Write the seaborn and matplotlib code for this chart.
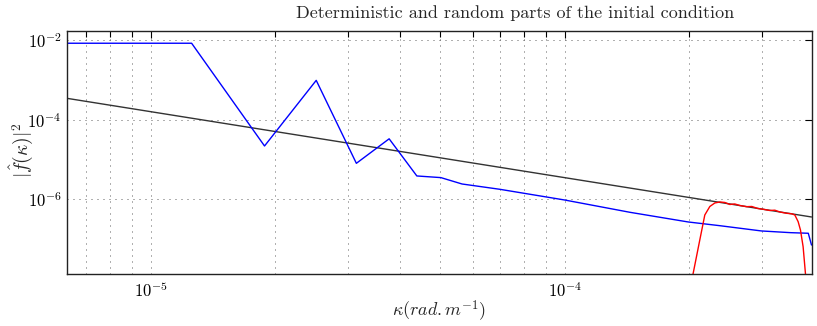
import numpy as np
import pandas as pd
import matplotlib
matplotlib.use("Agg")
import matplotlib.pyplot as plt
import seaborn as sns
from matplotlib.ticker import FixedLocator, FixedFormatter, NullFormatter

# ---- data ----
det_k = [6.283e-6, 1.2566e-5, 1.885e-5, 2.513e-5, 3.1416e-5, 3.770e-5, 4.398e-5,
         5.027e-5, 5.655e-5, 6.98e-5, 1.0e-4, 1.44e-4, 1.99e-4, 2.372e-4,
         2.99e-4, 3.516e-4, 3.88e-4, 3.95e-4]
det_E = [8.3e-3, 8.3e-3, 2.18e-5, 9.7e-4, 8.0e-6, 3.3e-5, 3.85e-6,
         3.5e-6, 2.42e-6, 1.78e-6, 9.6e-7, 4.7e-7, 2.69e-7, 2.17e-7,
         1.6e-7, 1.45e-7, 1.4e-7, 7.1e-8]

ref_k = [6.283e-6, 3.95e-4]
ref_E = [3.43e-4, 3.59e-7]

rnd_k = [2.008e-4, 2.122e-4, 2.182e-4, 2.244e-4, 2.307e-4, 2.372e-4, 2.439e-4,
         2.508e-4, 2.578e-4, 2.651e-4, 2.752e-4, 2.834e-4, 2.930e-4, 3.018e-4,
         3.132e-4, 3.221e-4, 3.311e-4, 3.437e-4, 3.540e-4, 3.600e-4, 3.667e-4,
         3.715e-4, 3.770e-4, 3.820e-4, 3.838e-4]
rnd_E = [5.26e-9, 9.49e-8, 4.03e-7, 6.59e-7, 8.07e-7, 8.55e-7, 8.31e-7,
         7.40e-7, 7.62e-7, 6.98e-7, 6.52e-7, 6.59e-7, 5.87e-7, 5.61e-7,
         5.23e-7, 5.32e-7, 4.80e-7, 4.45e-7, 4.32e-7, 4.03e-7, 2.74e-7,
         1.69e-7, 6.44e-8, 1.33e-8, 5.26e-9]

yticks = [1e-6, 1e-4, 1e-2]
ytick_labels = [r"$10^{-6}$", r"$10^{-4}$", r"$10^{-2}$"]
xticks = [1e-5, 1e-4]
xtick_labels = [r"$10^{-5}$", r"$10^{-4}$"]
title = "Deterministic and random parts of the initial condition"

# ---- style ----
sns.set_theme(style="white")
plt.rcParams["font.family"] = ["cmr10", "DejaVu Serif"]
plt.rcParams["mathtext.fontset"] = "cm"
plt.rcParams["axes.unicode_minus"] = False

fig = plt.figure(figsize=(8.17, 3.26), dpi=100)
ax_w = 811.5 - 67
ax_h = 274 - 30.7
ax = fig.add_axes([67 / 817, 1 - 274 / 326, ax_w / 817, ax_h / 326])

sns.lineplot(x=ref_k, y=ref_E, ax=ax, color="#333333", lw=1.0, estimator=None, sort=False)
sns.lineplot(x=det_k, y=det_E, ax=ax, color="#0000ff", lw=1.0, estimator=None, sort=False)
sns.lineplot(x=rnd_k, y=rnd_E, ax=ax, color="#ff0000", lw=1.0, estimator=None, sort=False)

ax.set_xscale("log")
ax.set_yscale("log")
ax.set_xlim(6.283e-6, 3.95e-4)
ax.set_ylim(10 ** -7.877, 10 ** -1.766)

ax.xaxis.set_major_locator(FixedLocator(xticks))
ax.xaxis.set_major_formatter(FixedFormatter(xtick_labels))
minor_x = [m * 10.0 ** e for e in (-6, -5, -4) for m in range(2, 10)]
ax.xaxis.set_minor_locator(FixedLocator(minor_x))
ax.xaxis.set_minor_formatter(NullFormatter())
ax.yaxis.set_major_locator(FixedLocator(yticks))
ax.yaxis.set_major_formatter(FixedFormatter(ytick_labels))
ax.yaxis.set_minor_locator(FixedLocator([]))

ax.tick_params(which="both", direction="in", top=True, right=True, colors="black",
               labelsize=12, width=0.8)
ax.tick_params(which="major", length=5)
ax.tick_params(which="minor", length=4)
ax.tick_params(axis="x", pad=5)
ax.tick_params(axis="y", pad=4)

grid_kw = dict(color="#444444", lw=0.6, linestyle=(0, (1.2, 6)))
ax.grid(True, which="major", axis="both", **grid_kw)
ax.grid(True, which="minor", axis="x", **grid_kw)

for s in ax.spines.values():
    s.set_color("#222222")
    s.set_linewidth(1.0)

ax.set_xlabel(r"$\kappa(rad.m^{-1})$", fontsize=13)
ax.set_ylabel(r"$|\hat{f}(\kappa)|^2$", fontsize=14)
ax.xaxis.set_label_coords((439 - 67) / ax_w, -(311 - 274) / ax_h)
ax.yaxis.set_label_coords(-(67 - 21) / ax_w, (274 - 150) / ax_h)
ax.xaxis.label.set_va("center")
ax.yaxis.label.set_va("center")

fig.text(515 / 817, 1 - 13 / 326, title, ha="center", va="center", fontsize=13)

fig.savefig("out.png", dpi=100, facecolor="white")
